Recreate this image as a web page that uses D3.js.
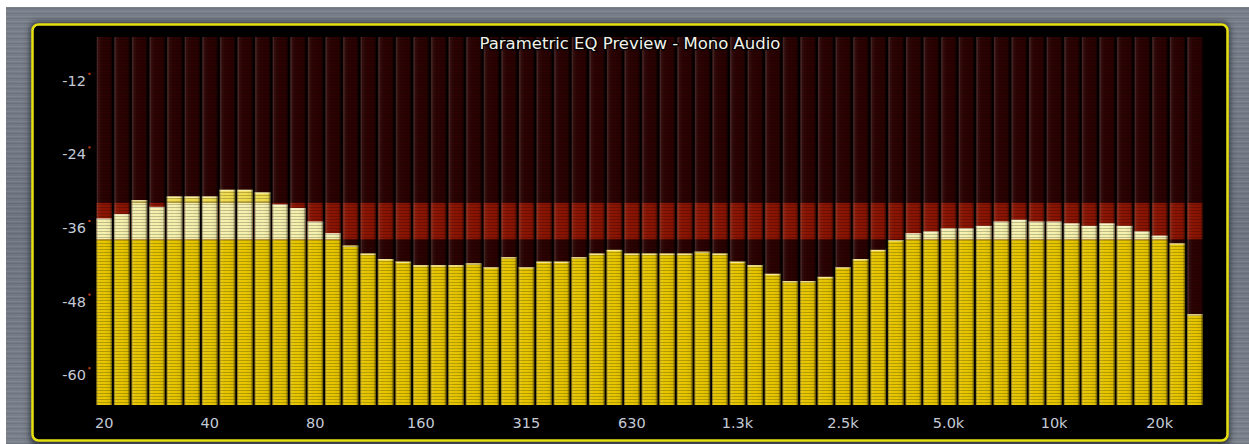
<!DOCTYPE html>
<html>
<head>
<meta charset="utf-8">
<script src="https://cdn.jsdelivr.net/npm/d3@7"></script>
<style>
  body { margin: 0; background: #fff; }
  svg { display: block; }
</style>
</head>
<body>
<div id="app"></div>
<script>
// levels in dB, one per 1/6-octave band, 20 Hz .. 25 kHz
const levels = [
  -35.6, -34.9, -32.6, -33.7, -32.0, -32.0, -32.0, -30.9, -30.9, -31.3,
  -33.3, -33.9, -36.1, -38.0, -40.0, -41.3, -42.2, -42.6, -43.2, -43.2,
  -43.2, -42.9, -43.5, -41.9, -43.5, -42.6, -42.6, -41.9, -41.3, -40.7,
  -41.3, -41.3, -41.3, -41.3, -41.0, -41.3, -42.6, -43.2, -44.6, -45.8,
  -45.8, -45.1, -43.5, -42.2, -40.7, -39.1, -38.0, -37.7, -37.2, -37.2,
  -36.8, -36.1, -35.8, -36.1, -36.1, -36.4, -36.8, -36.4, -36.8, -37.7,
  -38.4, -39.6, -51.2
];
const freqLabels = ["20", "40", "80", "160", "315", "630", "1.3k", "2.5k", "5.0k", "10k", "20k"];
const freqLabelBands = [0, 6, 12, 18, 24, 30, 36, 42, 48, 54, 60];
const dbTicks = [-12, -24, -36, -48, -60];
const title = "Parametric EQ Preview - Mono Audio";

// colour zones of the meter (dB ranges)
const zones = [
  {lo: -66, hi: -39, lit: "#e8c600", unlit: "#2c0202"},
  {lo: -39, hi: -33, lit: "#f7f2ae", unlit: "#8c1402"},
  {lo: -33, hi: -6,  lit: "#f1dd4c", unlit: "#2c0202"}
];

const W = 1249, H = 444;
const plot = {left: 96, right: 1203, top: 37, bottom: 405};

const svg = d3.select("#app").append("svg")
  .attr("width", W)
  .attr("height", H);

const defs = svg.append("defs");

// scanlines
const scan = defs.append("pattern")
  .attr("id", "scan")
  .attr("patternUnits", "userSpaceOnUse")
  .attr("width", 4).attr("height", 3);
scan.append("rect").attr("width", 4).attr("height", 1).attr("fill", "rgba(0,0,0,0.22)");

// bar edge shading
const edge = defs.append("linearGradient").attr("id", "edge");
edge.append("stop").attr("offset", "0").attr("stop-color", "#000").attr("stop-opacity", 0.5);
edge.append("stop").attr("offset", "0.14").attr("stop-color", "#fff").attr("stop-opacity", 0.05);
edge.append("stop").attr("offset", "0.5").attr("stop-color", "#000").attr("stop-opacity", 0);
edge.append("stop").attr("offset", "0.86").attr("stop-color", "#000").attr("stop-opacity", 0.05);
edge.append("stop").attr("offset", "1").attr("stop-color", "#000").attr("stop-opacity", 0.55);

// brushed grey backdrop
const bg = defs.append("linearGradient").attr("id", "bg").attr("x1", 0).attr("x2", 0).attr("y1", 0).attr("y2", 1);
bg.append("stop").attr("offset", "0").attr("stop-color", "#7a808b");
bg.append("stop").attr("offset", "0.5").attr("stop-color", "#6e7581");
bg.append("stop").attr("offset", "1").attr("stop-color", "#7b818c");

const blur = defs.append("filter").attr("id", "shadow").attr("x", "-5%").attr("y", "-5%").attr("width", "110%").attr("height", "110%");
blur.append("feGaussianBlur").attr("stdDeviation", 3);

svg.append("rect")
  .attr("x", 6).attr("y", 7)
  .attr("width", W - 6).attr("height", H - 7)
  .attr("fill", "url(#bg)");

// faint horizontal streaks on the backdrop
const streak = defs.append("pattern")
  .attr("id", "streak")
  .attr("patternUnits", "userSpaceOnUse")
  .attr("width", 40).attr("height", 5);
streak.append("rect").attr("y", 1).attr("width", 40).attr("height", 1).attr("fill", "rgba(255,255,255,0.07)");
streak.append("rect").attr("y", 3).attr("width", 40).attr("height", 1).attr("fill", "rgba(0,0,0,0.08)");
svg.append("rect")
  .attr("x", 6).attr("y", 7)
  .attr("width", W - 6).attr("height", H - 7)
  .attr("fill", "url(#streak)");

// frame
svg.append("rect")
  .attr("x", 30).attr("y", 22)
  .attr("width", 1200).attr("height", 424)
  .attr("rx", 8)
  .attr("fill", "#2f343c")
  .attr("filter", "url(#shadow)");
svg.append("rect")
  .attr("x", 32.5).attr("y", 24.5)
  .attr("width", 1195).attr("height", 416)
  .attr("rx", 6)
  .attr("fill", "#000")
  .attr("stroke", "#e6e010")
  .attr("stroke-width", 2.5);

// scales
const x = d3.scaleBand()
  .domain(levels.map((d, i) => i))
  .range([plot.left, plot.right])
  .paddingInner(0.11)
  .paddingOuter(0.02);

const y = d3.scaleLinear()
  .domain([-66, -6])
  .range([plot.bottom, plot.top]);

// bars
const bars = svg.append("g").selectAll("g")
  .data(levels)
  .enter()
  .append("g")
  .attr("transform", (d, i) => "translate(" + x(i) + ",0)");

zones.forEach(z => {
  bars.append("rect")
    .attr("y", y(z.hi))
    .attr("width", x.bandwidth())
    .attr("height", y(z.lo) - y(z.hi))
    .attr("fill", z.unlit);
  bars.filter(d => d > z.lo).append("rect")
    .attr("y", d => y(Math.min(d, z.hi)))
    .attr("width", x.bandwidth())
    .attr("height", d => y(z.lo) - y(Math.min(d, z.hi)))
    .attr("fill", z.lit);
});

// top highlight of each lit bar
bars.append("rect")
  .attr("y", d => y(d))
  .attr("width", x.bandwidth())
  .attr("height", 1.5)
  .attr("fill", "#fffbe0")
  .attr("opacity", 0.7);

bars.append("rect")
  .attr("y", plot.top)
  .attr("width", x.bandwidth())
  .attr("height", plot.bottom - plot.top)
  .attr("fill", "url(#scan)");
bars.append("rect")
  .attr("y", plot.top)
  .attr("width", x.bandwidth())
  .attr("height", plot.bottom - plot.top)
  .attr("fill", "url(#edge)");

// y axis labels
const yAxis = svg.append("g");
yAxis.selectAll("text")
  .data(dbTicks)
  .enter()
  .append("text")
  .attr("x", 86)
  .attr("y", d => y(d) + 12)
  .attr("text-anchor", "end")
  .attr("font-family", "DejaVu Sans, sans-serif")
  .attr("font-size", 14.5)
  .attr("fill", "#c4cad6")
  .text(d => d);
yAxis.selectAll("rect")
  .data(dbTicks)
  .enter()
  .append("rect")
  .attr("x", 88.5)
  .attr("y", d => y(d) - 1)
  .attr("width", 2).attr("height", 2)
  .attr("fill", "#d8400a");

// x axis labels
svg.append("g").selectAll("text")
  .data(freqLabels)
  .enter()
  .append("text")
  .attr("x", (d, i) => x(freqLabelBands[i]) + x.bandwidth() / 2)
  .attr("y", 428)
  .attr("text-anchor", "middle")
  .attr("font-family", "DejaVu Sans, sans-serif")
  .attr("font-size", 14.5)
  .attr("fill", "#c4cad6")
  .text(d => d);

// title
svg.append("text")
  .attr("x", 630)
  .attr("y", 49)
  .attr("text-anchor", "middle")
  .attr("font-family", "DejaVu Sans, sans-serif")
  .attr("font-size", 16.5)
  .attr("fill", "#f2f2ea")
  .attr("stroke", "#000")
  .attr("stroke-width", 2.5)
  .attr("paint-order", "stroke")
  .text(title);
</script>
</body>
</html>
